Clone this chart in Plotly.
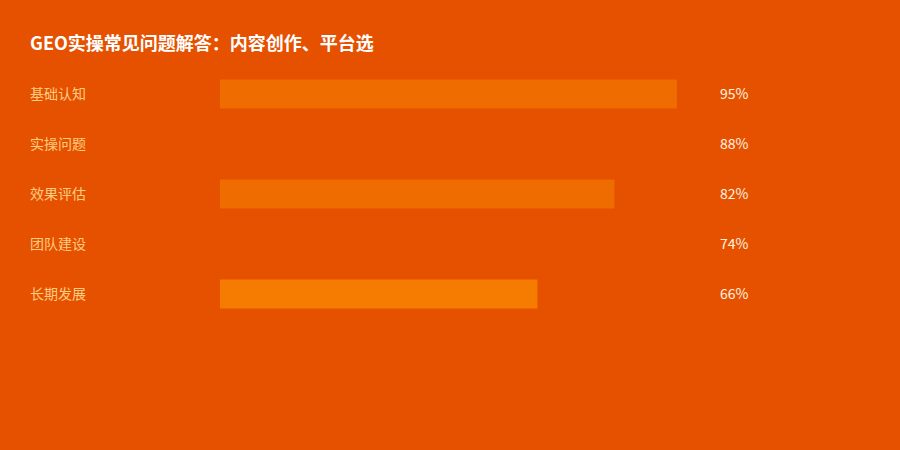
import plotly.graph_objects as go

# data
categories = ["基础认知", "实操问题", "效果评估", "团队建设", "长期发展"]
values = [95, 88, 82, 74, 66]
value_labels = ["95%", "88%", "82%", "74%", "66%"]
bar_colors = ["#EF6C00", "#E65100", "#EF6C00", "#E65100", "#F57C00"]

title = "GEO实操常见问题解答：内容创作、平台选"

BG = "#E65100"
FONT = "Noto Sans CJK SC"

fig = go.Figure(
    go.Bar(
        x=values,
        y=categories,
        orientation="h",
        width=0.58,
        marker=dict(color=bar_colors, line=dict(width=0)),
        hoverinfo="skip",
    )
)

# left-hand category labels and right-hand value labels
# (annotations carry ~2px of padding, so nudge them left)
for cat, lab in zip(categories, value_labels):
    fig.add_annotation(
        x=(28 - 220) / 481, xref="paper", y=cat, yref="y", yshift=1,
        text=cat, showarrow=False, xanchor="left",
        font=dict(family=FONT, size=14, color="#FFCC80"),
    )
    fig.add_annotation(
        x=(718 - 220) / 481, xref="paper", y=cat, yref="y", yshift=1,
        text=lab, showarrow=False, xanchor="left",
        font=dict(family=FONT, size=14, color="#FFF3E0"),
    )

fig.update_layout(
    width=900,
    height=450,
    paper_bgcolor=BG,
    plot_bgcolor=BG,
    margin=dict(l=220, r=199, t=69, b=131),
    showlegend=False,
    title=dict(
        text="<b>" + title + "</b>",
        x=30 / 900, xanchor="left", xref="container",
        y=1 - 44 / 450, yanchor="middle", yref="container",
        font=dict(family=FONT, size=18, color="#FFFFFF"),
    ),
    xaxis=dict(range=[0, 100], visible=False, fixedrange=True),
    yaxis=dict(
        categoryorder="array", categoryarray=categories, autorange="reversed",
        visible=False, fixedrange=True,
    ),
)

# drop the browser's default page margin so the chart sits at 0,0
fig.write_html(
    "out.html",
    config={"displayModeBar": False},
    post_script="document.body.style.margin='0';document.body.style.overflow='hidden';",
)
